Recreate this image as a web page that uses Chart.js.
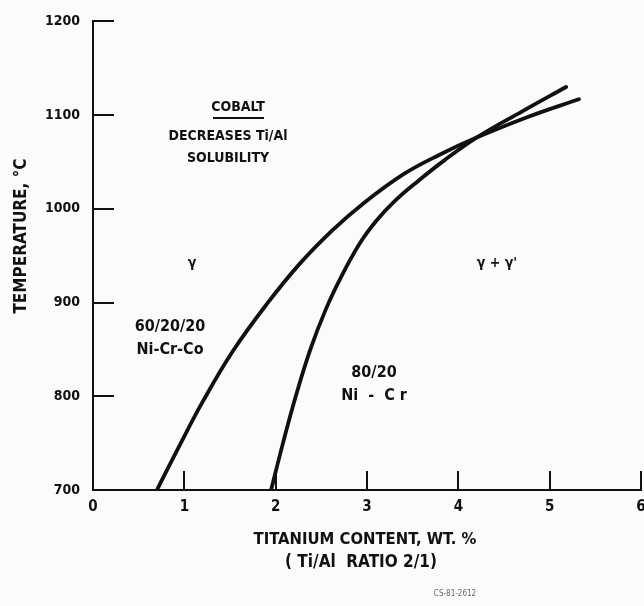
<!DOCTYPE html>
<html>
<head>
<meta charset="utf-8">
<script src="https://cdn.jsdelivr.net/npm/chart.js@4"></script>
<style>
  body { margin: 0; background: #fbfbfb; }
  canvas { display: block; }
</style>
</head>
<body>
<canvas id="solubilityChart" width="644" height="606"></canvas>
<script>
// Phase boundary readings, Ti content (wt.%) vs temperature (C)
var niCrCoX = [0.70, 0.95, 1.20, 1.53, 1.90, 2.26, 2.62, 2.95, 3.40, 3.80, 4.20, 4.76, 5.32];
var niCrCoT = [700, 748, 794, 848, 898, 941, 977, 1005, 1037, 1058, 1076, 1098, 1117];
var niCrX = [1.95, 2.08, 2.22, 2.38, 2.55, 2.72, 2.92, 3.10, 3.30, 3.55, 3.85, 4.20, 4.70, 5.18];
var niCrT = [700, 750, 800, 850, 893, 928, 963, 987, 1008, 1029, 1052, 1076, 1104, 1130];
var xTicks = [0, 1, 2, 3, 4, 5, 6];
var yTicks = [700, 800, 900, 1000, 1100, 1200];

var FONT = "'DejaVu Sans Condensed', 'Liberation Sans Narrow', sans-serif";
var INK = '#111';

function toPoints(xs, ys) {
  return xs.map(function (x, i) { return { x: x, y: ys[i] }; });
}

// background, inward tick marks and the free text on the plot
var figureText = {
  id: 'figureText',
  beforeDraw: function (chart) {
    var c = chart.ctx;
    c.save();
    c.fillStyle = '#fbfbfb';
    c.fillRect(0, 0, chart.width, chart.height);
    c.restore();
  },
  afterDraw: function (chart) {
    var c = chart.ctx;
    var xs = chart.scales.x, ys = chart.scales.y;
    var a = chart.chartArea;
    c.save();
    c.strokeStyle = INK;
    c.lineWidth = 2;
    xTicks.forEach(function (v) {
      var px = Math.round(xs.getPixelForValue(v));
      c.beginPath(); c.moveTo(px, a.bottom); c.lineTo(px, a.bottom - 19); c.stroke();
    });
    yTicks.forEach(function (v) {
      var py = Math.round(ys.getPixelForValue(v));
      c.beginPath(); c.moveTo(a.left, py); c.lineTo(a.left + 21, py); c.stroke();
    });

    c.fillStyle = INK;
    c.textAlign = 'center';
    c.textBaseline = 'middle';
    c.font = 'bold 14px ' + FONT;
    c.fillText('COBALT', 238, 107);
    c.fillRect(213, 117, 51, 2);
    c.fillText('DECREASES Ti/Al', 228, 136);
    c.fillText('SOLUBILITY', 228, 158);
    c.font = 'bold 16px ' + FONT;
    c.fillText('60/20/20', 170, 327);
    c.fillText('Ni-Cr-Co', 170, 350);
    c.fillText('80/20', 374, 373);
    c.fillText('Ni  -  C r', 374, 396);
    c.font = 'bold 14px ' + FONT;
    c.fillText('γ', 192, 263);
    c.fillText('γ + γ\'', 497, 263);

    c.font = 'bold 16.5px ' + FONT;
    c.fillText('TITANIUM CONTENT, WT. %', 365, 540);
    c.font = 'bold 17px ' + FONT;
    c.fillText('( Ti/Al  RATIO 2/1)', 361, 563);

    c.font = '8px ' + FONT;
    c.fillStyle = '#666';
    c.fillText('CS-81-2612', 455, 594);

    c.fillStyle = INK;
    c.font = 'bold 17px ' + FONT;
    c.translate(22, 236);
    c.rotate(-Math.PI / 2);
    c.fillText('TEMPERATURE, \u00B0C', 0, 0);
    c.restore();
  }
};

var lineStyle = {
  showLine: true,
  borderColor: INK,
  borderWidth: 3.8,
  pointRadius: 0,
  tension: 0.4,
  borderCapStyle: 'round'
};

var ctx = document.getElementById('solubilityChart').getContext('2d');
var solubilityChart = new Chart(ctx, {
  type: 'scatter',
  data: {
    datasets: [
      Object.assign({ label: '60/20/20 Ni-Cr-Co', data: toPoints(niCrCoX, niCrCoT) }, lineStyle),
      Object.assign({ label: '80/20 Ni-Cr', data: toPoints(niCrX, niCrT) }, lineStyle)
    ]
  },
  options: {
    responsive: false,
    animation: false,
    layout: { padding: { top: 18, right: 3, left: 0, bottom: 0 } },
    plugins: {
      legend: { display: false },
      tooltip: { enabled: false }
    },
    scales: {
      x: {
        type: 'linear',
        min: 0,
        max: 6,
        afterBuildTicks: function (scale) {
          scale.ticks = xTicks.map(function (v) { return { value: v }; });
        },
        grid: { display: false, drawTicks: false },
        border: { display: true, color: INK, width: 2 },
        ticks: {
          color: INK,
          padding: 8,
          font: { family: FONT, size: 15, weight: 'bold' },
          callback: function (v) { return String(v); }
        },
        afterFit: function (scale) {
          scale.height = 116;
          scale.paddingLeft = 0;
          scale.paddingRight = 0;
        }
      },
      y: {
        type: 'linear',
        min: 700,
        max: 1200,
        afterBuildTicks: function (scale) {
          scale.ticks = yTicks.map(function (v) { return { value: v }; });
        },
        grid: { display: false, drawTicks: false },
        border: { display: true, color: INK, width: 2 },
        ticks: {
          color: INK,
          padding: 13,
          font: { family: FONT, size: 14, weight: 'bold' },
          callback: function (v) { return String(v); }
        },
        afterFit: function (scale) { scale.width = 93; }
      }
    }
  },
  plugins: [figureText]
});
</script>
</body>
</html>
